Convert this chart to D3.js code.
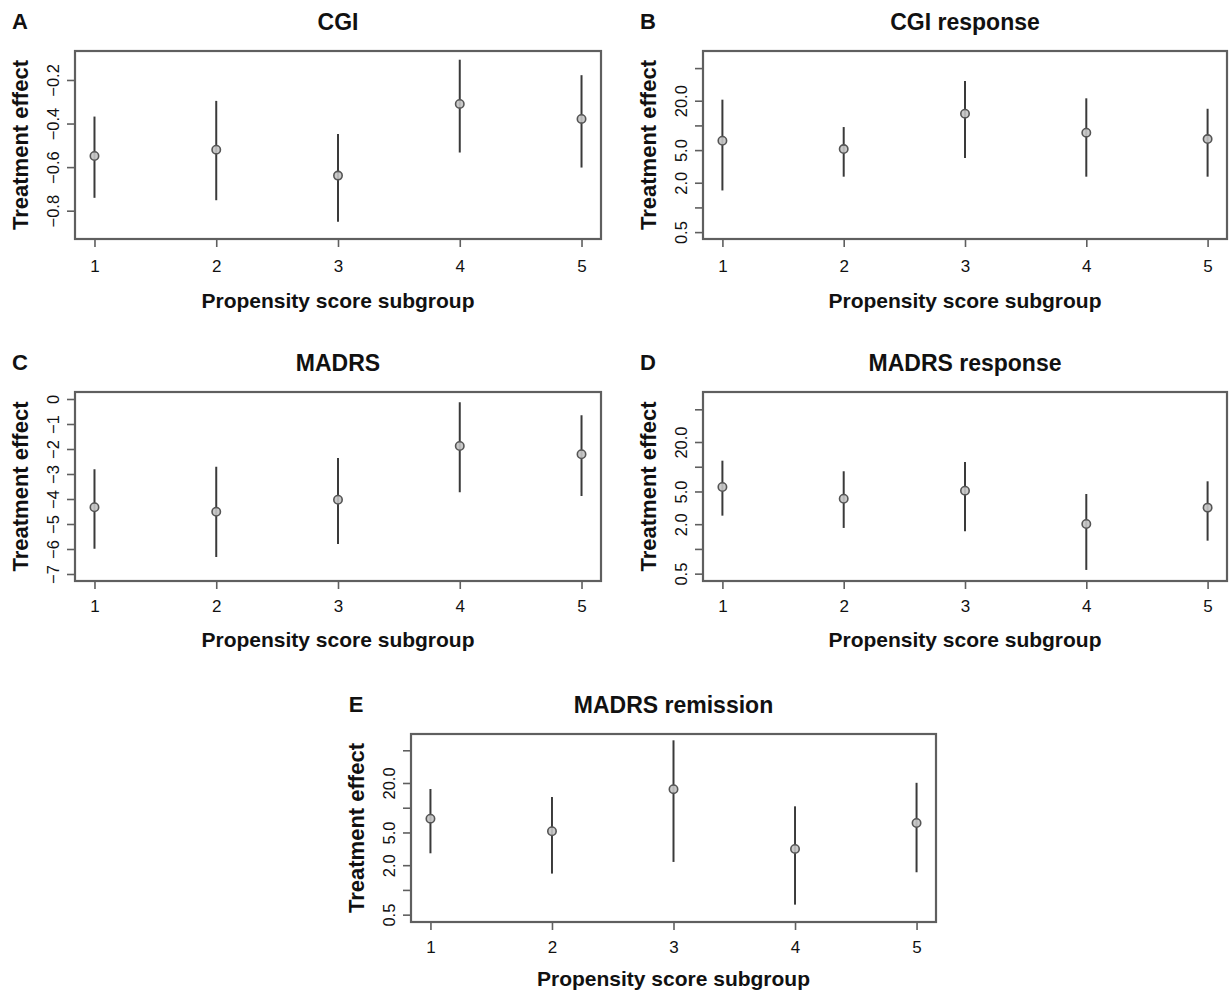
<!DOCTYPE html>
<html>
<head>
<meta charset="utf-8">
<script src="https://cdn.jsdelivr.net/npm/d3@7"></script>
<style>
  html, body { margin: 0; padding: 0; background: #fff; }
  svg { display: block; }
  text { font-family: "Liberation Sans", Arial, Helvetica, sans-serif; fill: #111; }
</style>
</head>
<body>
<svg id="chart" width="1231" height="994"></svg>
<script>
// ---------------- data ----------------
const subgroups = [1, 2, 3, 4, 5];

const cgiEst = [-0.549, -0.520, -0.639, -0.310, -0.379];
const cgiLo  = [-0.741, -0.752, -0.851, -0.533, -0.602];
const cgiHi  = [-0.368, -0.296, -0.448, -0.107, -0.178];

const cgiRespEst = [6.5, 5.15, 13.9, 8.15, 6.82];
const cgiRespLo  = [1.61, 2.37, 4.0, 2.37, 2.37];
const cgiRespHi  = [20.6, 9.55, 34.8, 21.4, 15.96];

const madrsEst = [-4.33, -4.51, -4.03, -1.88, -2.21];
const madrsLo  = [-5.99, -6.32, -5.80, -3.73, -3.88];
const madrsHi  = [-2.81, -2.71, -2.36, -0.13, -0.65];

const madrsRespEst = [5.67, 4.08, 5.11, 2.01, 3.18];
const madrsRespLo  = [2.54, 1.80, 1.64, 0.555, 1.26];
const madrsRespHi  = [11.85, 8.81, 11.4, 4.66, 6.65];

const madrsRemEst = [7.36, 5.17, 16.8, 3.15, 6.52];
const madrsRemLo  = [2.79, 1.58, 2.19, 0.662, 1.64];
const madrsRemHi  = [16.9, 13.5, 66.1, 10.4, 20.1];

const panelLetters = ["A", "B", "C", "D", "E"];
const panelTitles = ["CGI", "CGI response", "MADRS", "MADRS response", "MADRS remission"];

// axis ticks / labels
const xTicks = [1, 2, 3, 4, 5];
const xLimits = [0.84, 5.16];
const cgiTicks = [-0.8, -0.6, -0.4, -0.2];
const cgiTickLabels = ["\u22120.8", "\u22120.6", "\u22120.4", "\u22120.2"];
const madrsTicks = [-7, -6, -5, -4, -3, -2, -1, 0];
const madrsTickLabels = ["\u22127", "\u22126", "\u22125", "\u22124", "\u22123", "\u22122", "\u22121", "0"];
const logTicks = [0.5, 1, 2, 5, 10, 20, 50];
const logTickLabels = ["0.5", "", "2.0", "5.0", "", "20.0", ""];

const xTitle = "Propensity score subgroup";
const yTitle = "Treatment effect";

// y-axis limits
const cgiLimits = [-0.930, -0.067];
const cgiRespLimits = [0.412, 80.8];
const madrsLimits = [-7.28, 0.28];
const madrsRespLimits = [0.407, 81.2];
const madrsRemLimits = [0.407, 78.9];

// ---------------- layout ----------------
const panels = [
  { box: [75, 51, 601, 239],   est: cgiEst, lo: cgiLo, hi: cgiHi, log: false, lim: cgiLimits, ticks: cgiTicks, labels: cgiTickLabels, xl: 266, xt: 300 },
  { box: [703, 51, 1227, 239], est: cgiRespEst, lo: cgiRespLo, hi: cgiRespHi, log: true, lim: cgiRespLimits, ticks: logTicks, labels: logTickLabels, xl: 266, xt: 300 },
  { box: [75, 392, 601, 581],  est: madrsEst, lo: madrsLo, hi: madrsHi, log: false, lim: madrsLimits, ticks: madrsTicks, labels: madrsTickLabels, xl: 606, xt: 639 },
  { box: [703, 392, 1227, 581], est: madrsRespEst, lo: madrsRespLo, hi: madrsRespHi, log: true, lim: madrsRespLimits, ticks: logTicks, labels: logTickLabels, xl: 606, xt: 639 },
  { box: [411, 734, 936, 922], est: madrsRemEst, lo: madrsRemLo, hi: madrsRemHi, log: true, lim: madrsRemLimits, ticks: logTicks, labels: logTickLabels, xl: 947, xt: 978 }
];

const svg = d3.select("#chart");
const frameColor = "#5f5f5f";
const barColor = "#3a3a3a";

panels.forEach((p, i) => {
  const [x0, y0, x1, y1] = p.box;
  const x = d3.scaleLinear().domain(xLimits).range([x0, x1]);
  const y = (p.log ? d3.scaleLog() : d3.scaleLinear()).domain(p.lim).range([y1, y0]);
  const g = svg.append("g");

  // x axis
  const xAxis = d3.axisBottom(x).tickValues(xTicks).tickSize(8).tickFormat(d3.format("d"));
  const gx = g.append("g").attr("transform", `translate(0,${y1})`).call(xAxis);
  gx.attr("font-size", 17).attr("font-family", null);
  gx.select(".domain").remove();
  gx.selectAll(".tick line").attr("stroke", frameColor).attr("stroke-width", 1.6);
  gx.selectAll(".tick text").attr("y", 0).attr("dy", null)
    .attr("transform", `translate(0,${p.xl - y1})`)
    .attr("dominant-baseline", "central")
    .attr("font-size", 17).attr("fill", "#111");

  // y axis
  const yAxis = d3.axisLeft(y).tickValues(p.ticks).tickSize(8)
    .tickFormat((d, k) => p.labels[k]);
  const gy = g.append("g").attr("transform", `translate(${x0},0)`).call(yAxis);
  gy.attr("font-size", 16.5).attr("font-family", null);
  gy.select(".domain").remove();
  gy.selectAll(".tick line").attr("stroke", frameColor).attr("stroke-width", 1.6);
  gy.selectAll(".tick text")
    .attr("x", 0).attr("dy", null)
    .attr("text-anchor", "middle")
    .attr("dominant-baseline", "central")
    .attr("transform", "translate(-22,0) rotate(-90)")
    .attr("font-size", 16.5).attr("fill", "#111");

  // frame
  g.append("rect").attr("x", x0).attr("y", y0).attr("width", x1 - x0).attr("height", y1 - y0)
    .attr("fill", "none").attr("stroke", frameColor).attr("stroke-width", 2.2);

  // error bars
  g.selectAll("line.ci").data(subgroups).join("line").attr("class", "ci")
    .attr("x1", d => x(d)).attr("x2", d => x(d))
    .attr("y1", (d, k) => y(p.lo[k])).attr("y2", (d, k) => y(p.hi[k]))
    .attr("stroke", barColor).attr("stroke-width", 2);

  // points
  g.selectAll("circle.pt").data(subgroups).join("circle").attr("class", "pt")
    .attr("cx", d => x(d)).attr("cy", (d, k) => y(p.est[k])).attr("r", 4.2)
    .attr("fill", "#c4c4c4").attr("fill-opacity", 0.9)
    .attr("stroke", "#555").attr("stroke-width", 1.6);

  // titles
  const cx = (x0 + x1) / 2;
  g.append("text").attr("x", cx).attr("y", y0 - 29).attr("text-anchor", "middle")
    .attr("dominant-baseline", "central")
    .attr("font-size", 23).attr("font-weight", "bold").text(panelTitles[i]);
  g.append("text").attr("x", x0 - 55).attr("y", y0 - 30).attr("text-anchor", "middle")
    .attr("dominant-baseline", "central")
    .attr("font-size", 22).attr("font-weight", "bold").text(panelLetters[i]);
  g.append("text").attr("x", cx).attr("y", p.xt).attr("text-anchor", "middle")
    .attr("dominant-baseline", "central")
    .attr("font-size", 21).attr("font-weight", "bold").text(xTitle);
  g.append("text").attr("transform", `translate(${x0 - 55},${(y0 + y1) / 2}) rotate(-90)`)
    .attr("text-anchor", "middle").attr("dominant-baseline", "central")
    .attr("font-size", 22).attr("font-weight", "bold").text(yTitle);
});
</script>
</body>
</html>
